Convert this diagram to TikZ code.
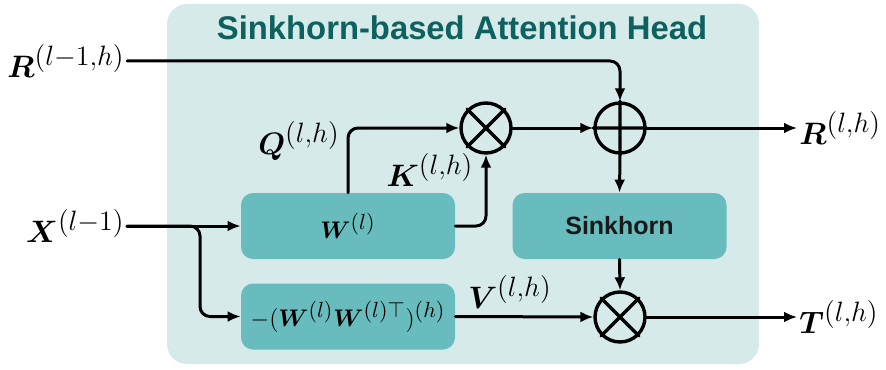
\documentclass[tikz,border=0pt]{standalone}
\usepackage{fix-cm}
\usepackage{amsmath,amssymb,bm}
\usepackage{fontspec}
\setsansfont{Liberation Sans}
\usetikzlibrary{arrows.meta}
\DeclareMathSizes{12}{12}{10.95}{9}
\DeclareMathSizes{15.5}{15.5}{14}{11}
\definecolor{headbg}{HTML}{D6EAE9}
\definecolor{boxfill}{HTML}{69BCBE}
\definecolor{titlecol}{HTML}{0D615E}
\begin{document}
\begin{tikzpicture}[x=.5pt,y=-.5pt,line cap=round,line join=round,
  every node/.style={font=\fontsize{12}{14}\selectfont},
  lbl/.style={inner sep=1pt,font=\fontsize{15.5}{18}\selectfont},
  opbox/.style={fill=boxfill,rounded corners=6pt,minimum width=107pt,minimum height=33pt,inner sep=0pt},
  opcirc/.style={draw,circle,line width=1.7pt,minimum size=25pt,inner sep=0pt},
  conn/.style={line width=1.5pt,rounded corners=5pt,-{Latex[length=6.5pt,width=5.5pt]}}]
  \useasboundingbox (0,0) rectangle (886,369);
  \coordinate (T) at (462,28);
  \coordinate (W) at (348,226);
  \coordinate (M) at (348,316.5);
  \coordinate (S) at (619.5,226);
  \coordinate (QK) at (486,128);
  \coordinate (P) at (620,128);
  \coordinate (TV) at (620,317);
  \coordinate (split) at (200,226);
  \fill[headbg,rounded corners=10pt] (167,4) rectangle (759,364);
  \node[text=titlecol,font=\fontsize{16.4}{18}\selectfont\sffamily\bfseries] (title) at (T) {Sinkhorn-based Attention Head};
  \node[opbox] (wbox) at (W) {$\bm{W}^{(l)}$};
  \node[opbox] (mbox) at (M) {$-(\bm{W}^{(l)}\bm{W}^{(l)\top})^{(h)}$};
  \node[opbox,font=\fontsize{12.5}{14}\selectfont\sffamily\bfseries,text=black!90] (sink) at (S) {Sinkhorn};
  \node[opcirc] (qk) at (QK) {};
  \node[opcirc] (plus) at (P) {};
  \node[opcirc] (tv) at (TV) {};
  \draw[line width=1.7pt] (qk.north east)--(qk.south west) (qk.north west)--(qk.south east)
    (tv.north east)--(tv.south west) (tv.north west)--(tv.south east)
    (plus.north)--(plus.south) (plus.west)--(plus.east);
  \node[lbl,anchor=east] (rin) at (127,61) {$\bm{R}^{(l-1,h)}$};
  \node[lbl,anchor=east] (xin) at (127,226) {$\bm{X}^{(l-1)}$};
  \node[lbl,anchor=west] (rout) at (797,128) {$\bm{R}^{(l,h)}$};
  \node[lbl,anchor=west] (tout) at (797,317) {$\bm{T}^{(l,h)}$};
  \node[lbl] (qlab) at (299,141) {$\bm{Q}^{(l,h)}$};
  \node[lbl] (klab) at (430,170) {$\bm{K}^{(l,h)}$};
  \node[lbl] (vlab) at (510,292) {$\bm{V}^{(l,h)}$};
  \draw[conn] (rin.east) -| (plus.north);
  \draw[conn] (xin.east) -- (wbox.west);
  \draw[conn] (xin.east) -- (split) |- (mbox.west);
  \draw[conn] (wbox.north) |- (qk.west);
  \draw[conn] (wbox.east) -| (qk.south);
  \draw[conn] (qk.east) -- (plus.west);
  \draw[conn] (plus.east) -- (rout.west);
  \draw[conn] (plus.south) -- (sink.north);
  \draw[conn] (sink.south) -- (tv.north);
  \draw[conn] (mbox.east) -- (tv.west);
  \draw[conn] (tv.east) -- (tout.west);
\end{tikzpicture}
\end{document}
